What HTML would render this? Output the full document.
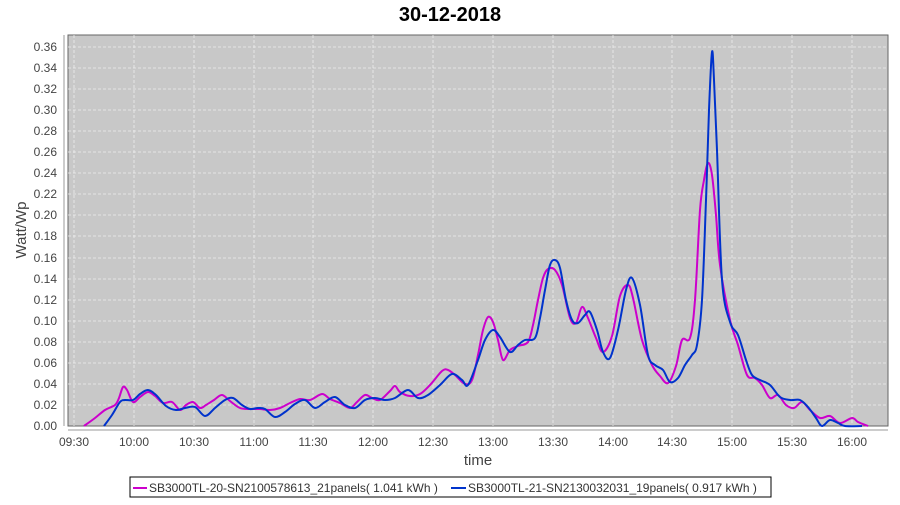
<!DOCTYPE html>
<html><head><style>
html,body{margin:0;padding:0;background:#fff;}
</style></head><body>
<svg id="s" width="900" height="500" xmlns="http://www.w3.org/2000/svg" font-family="Liberation Sans, sans-serif">
<rect width="900" height="500" fill="#fff"/>
<text x="450" y="21" text-anchor="middle" font-size="20" font-weight="bold" fill="#000">30-12-2018</text>
<rect x="68" y="35" width="820" height="391" fill="#c8c8c8" stroke="#666" stroke-width="1"/>
<g stroke="#eee" stroke-width="0.8" stroke-dasharray="3,2">
<line x1="68" x2="888" y1="405" y2="405"/><line x1="68" x2="888" y1="384" y2="384"/><line x1="68" x2="888" y1="363" y2="363"/><line x1="68" x2="888" y1="342" y2="342"/><line x1="68" x2="888" y1="321" y2="321"/><line x1="68" x2="888" y1="300" y2="300"/><line x1="68" x2="888" y1="279" y2="279"/><line x1="68" x2="888" y1="258" y2="258"/><line x1="68" x2="888" y1="236" y2="236"/><line x1="68" x2="888" y1="215" y2="215"/><line x1="68" x2="888" y1="194" y2="194"/><line x1="68" x2="888" y1="173" y2="173"/><line x1="68" x2="888" y1="152" y2="152"/><line x1="68" x2="888" y1="131" y2="131"/><line x1="68" x2="888" y1="110" y2="110"/><line x1="68" x2="888" y1="89" y2="89"/><line x1="68" x2="888" y1="68" y2="68"/><line x1="68" x2="888" y1="47" y2="47"/>
<line y1="35" y2="426" x1="74" x2="74"/><line y1="35" y2="426" x1="134" x2="134"/><line y1="35" y2="426" x1="194" x2="194"/><line y1="35" y2="426" x1="254" x2="254"/><line y1="35" y2="426" x1="313" x2="313"/><line y1="35" y2="426" x1="373" x2="373"/><line y1="35" y2="426" x1="433" x2="433"/><line y1="35" y2="426" x1="493" x2="493"/><line y1="35" y2="426" x1="553" x2="553"/><line y1="35" y2="426" x1="613" x2="613"/><line y1="35" y2="426" x1="672" x2="672"/><line y1="35" y2="426" x1="732" x2="732"/><line y1="35" y2="426" x1="792" x2="792"/><line y1="35" y2="426" x1="852" x2="852"/>
</g>
<line x1="64" y1="35" x2="64" y2="426" stroke="#999"/>
<line x1="68" y1="430" x2="888" y2="430" stroke="#999"/>
<g font-size="12" fill="#444" text-anchor="end">
<text x="57" y="430">0.00</text><text x="57" y="409">0.02</text><text x="57" y="388">0.04</text><text x="57" y="367">0.06</text><text x="57" y="346">0.08</text><text x="57" y="325">0.10</text><text x="57" y="304">0.12</text><text x="57" y="283">0.14</text><text x="57" y="262">0.16</text><text x="57" y="240">0.18</text><text x="57" y="219">0.20</text><text x="57" y="198">0.22</text><text x="57" y="177">0.24</text><text x="57" y="156">0.26</text><text x="57" y="135">0.28</text><text x="57" y="114">0.30</text><text x="57" y="93">0.32</text><text x="57" y="72">0.34</text><text x="57" y="51">0.36</text>
</g>
<g font-size="12" fill="#444" text-anchor="middle">
<text x="74" y="446">09:30</text><text x="134" y="446">10:00</text><text x="194" y="446">10:30</text><text x="254" y="446">11:00</text><text x="313" y="446">11:30</text><text x="373" y="446">12:00</text><text x="433" y="446">12:30</text><text x="493" y="446">13:00</text><text x="553" y="446">13:30</text><text x="613" y="446">14:00</text><text x="672" y="446">14:30</text><text x="732" y="446">15:00</text><text x="792" y="446">15:30</text><text x="852" y="446">16:00</text>
</g>
<text x="478" y="465" text-anchor="middle" font-size="15" fill="#444">time</text>
<text transform="translate(26,230) rotate(-90)" text-anchor="middle" font-size="15" fill="#444">Watt/Wp</text>
<polyline class="sm" fill="none" stroke="#cc00cc" stroke-width="2" stroke-linejoin="round" points="84,426 95,418 105,410 115,405 119,398 123,387 127,390 133,402 140,397 148,392 155,396 163,403 172,402 180,410 186,405 193,402 200,408 206,405 214,400 222,395 230,401 240,408 250,409 260,409 270,410 280,408 290,403 300,399 310,400 322,394 330,399 340,403 350,408 357,402 365,395 372,398 380,400 390,391 395,386 400,392 410,396 420,394 430,385 442,371 448,370 455,375 465,384 472,380 478,355 483,330 488,317 493,322 498,340 503,360 510,350 518,346 528,342 533,325 538,300 543,278 548,269 555,270 562,285 570,318 576,323 582,307 588,318 596,338 603,352 612,336 620,296 628,285 633,298 642,340 652,365 660,376 668,383 676,366 682,340 690,338 695,300 700,210 704,180 708,163 712,175 716,215 720,265 730,320 738,345 747,375 755,378 762,385 770,398 778,395 786,405 794,408 802,402 810,410 820,418 830,416 840,423 852,418 858,422 868,426"/>
<polyline class="sm" fill="none" stroke="#0033cc" stroke-width="2" stroke-linejoin="round" points="104,426 112,415 120,402 125,400 133,400 140,394 148,390 156,395 166,406 176,410 185,408 195,407 205,416 215,408 225,400 233,398 242,405 250,409 258,408 265,409 275,417 285,412 295,404 305,400 315,408 325,402 335,397 345,405 355,408 365,400 375,398 385,400 395,398 408,390 418,398 428,395 440,385 452,374 462,380 468,385 478,360 485,340 493,330 500,337 510,352 518,345 525,340 535,338 540,318 545,290 550,265 555,260 560,268 566,300 572,320 578,323 585,315 590,312 597,330 603,352 610,358 618,330 626,290 632,278 640,305 648,355 655,365 663,370 670,382 678,378 685,365 692,355 697,345 702,300 706,200 709,110 712,52 714,80 717,150 722,280 730,322 738,335 746,360 752,375 760,380 770,385 780,397 790,400 800,400 808,407 816,418 822,426 830,420 838,423 845,426 862,426"/>
<rect x="130" y="477" width="641" height="20" fill="#fff" stroke="#000" stroke-width="1"/>
<line x1="133" y1="488" x2="147" y2="488" stroke="#cc00cc" stroke-width="2"/>
<line x1="451" y1="488" x2="466" y2="488" stroke="#0033cc" stroke-width="2"/>
<text x="149" y="492" font-size="12" fill="#333">SB3000TL-20-SN2100578613_21panels( 1.041 kWh )</text>
<text x="468" y="492" font-size="12" fill="#333">SB3000TL-21-SN2130032031_19panels( 0.917 kWh )</text>
</svg>
<script>
document.querySelectorAll('polyline.sm').forEach(function(pl){
  var p=pl.getAttribute('points').trim().split(/\s+/).map(function(s){return s.split(',').map(Number);});
  var d='M'+p[0][0]+','+p[0][1];
  for(var i=0;i<p.length-1;i++){
    var p0=p[i>0?i-1:0],p1=p[i],p2=p[i+1],p3=p[i+2<p.length?i+2:i+1];
    var c1x=p1[0]+(p2[0]-p0[0])/6,c1y=p1[1]+(p2[1]-p0[1])/6;
    var c2x=p2[0]-(p3[0]-p1[0])/6,c2y=p2[1]-(p3[1]-p1[1])/6;
    d+=' C'+c1x.toFixed(1)+','+c1y.toFixed(1)+' '+c2x.toFixed(1)+','+c2y.toFixed(1)+' '+p2[0]+','+p2[1];
  }
  var path=document.createElementNS('http://www.w3.org/2000/svg','path');
  path.setAttribute('d',d);path.setAttribute('fill','none');
  path.setAttribute('stroke',pl.getAttribute('stroke'));path.setAttribute('stroke-width','2');
  path.setAttribute('stroke-linejoin','round');
  pl.parentNode.replaceChild(path,pl);
});
</script>
</body></html>
